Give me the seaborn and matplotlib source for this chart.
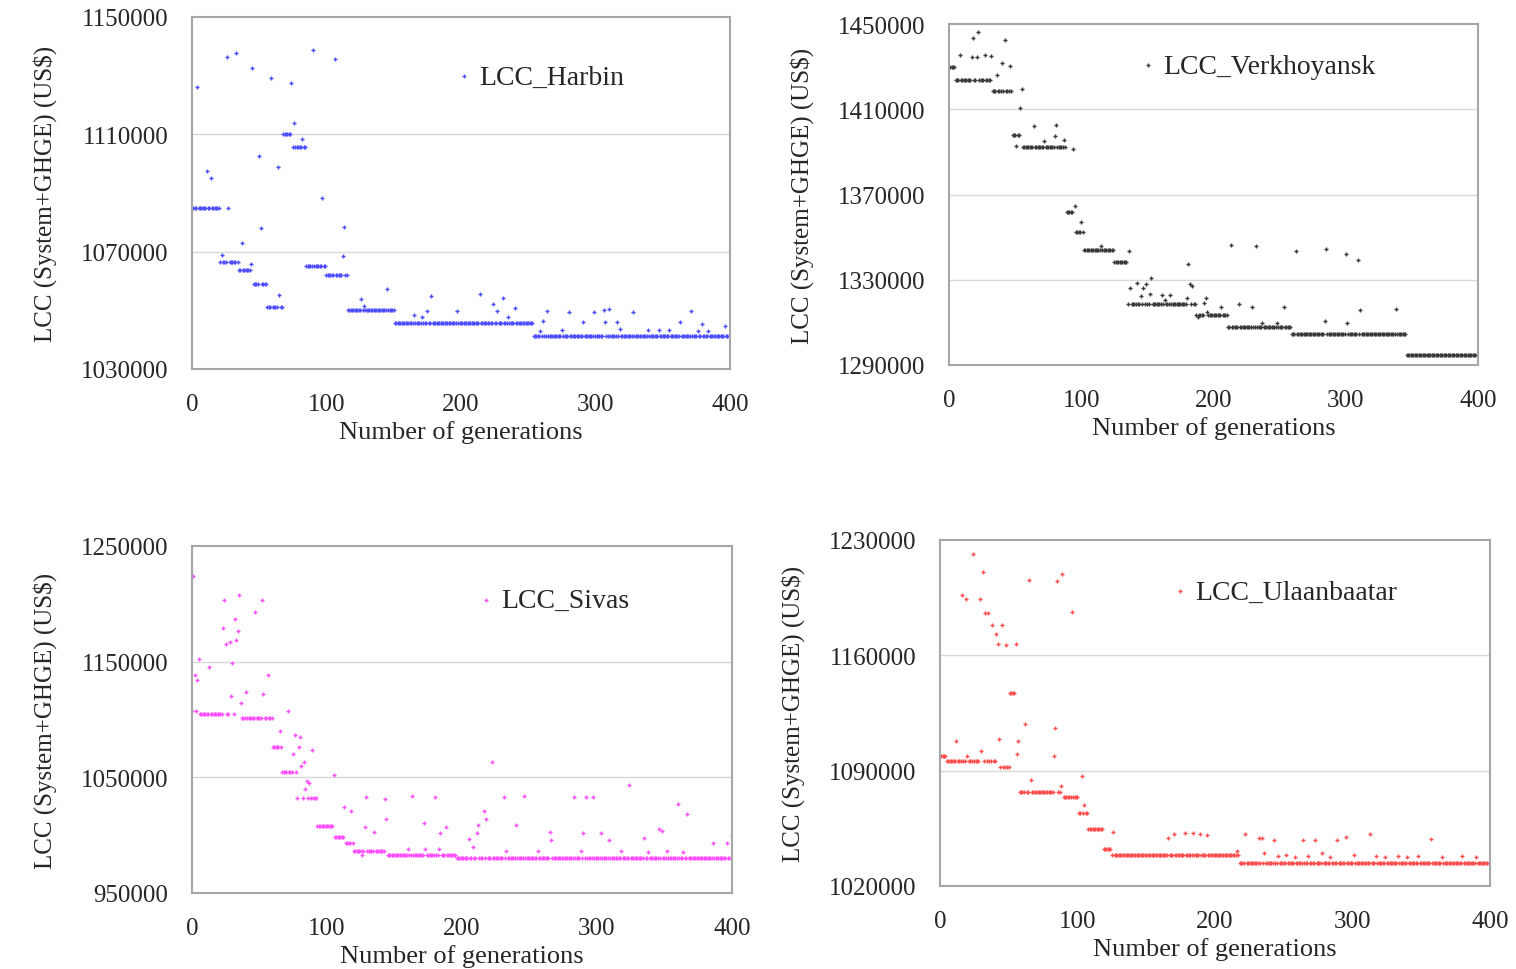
import matplotlib
matplotlib.use("Agg")
import matplotlib.pyplot as plt
import numpy as np
import pandas as pd
import seaborn as sns

# --- data (plateau runs + scattered points) ---
harbin_seg_start = [0, 21, 35, 45, 56, 68, 74, 85, 100, 116, 151, 254]
harbin_seg_end = [20, 34, 44, 55, 67, 73, 84, 99, 115, 150, 253, 400]
harbin_seg_value = [1085000, 1066500, 1063700, 1058800, 1051100, 1110200, 1105800,
                    1065000, 1062000, 1050100, 1045700, 1041100]
harbin_out_gen = [4, 11, 14, 22, 26, 27, 33, 37, 44, 45, 50, 51, 59, 64, 65, 74, 76, 82, 90,
                  97, 106, 112, 113, 115, 126, 128, 145, 165, 171, 175, 178, 197, 214, 224,
                  227, 231, 235, 240, 259, 261, 264, 275, 280, 291, 299, 306, 307, 310, 316,
                  318, 328, 339, 347, 355, 363, 371, 376, 379, 384, 396]
harbin_out_val = [1126200, 1097400, 1095200, 1068800, 1136350, 1084900, 1137600, 1072900,
                  1065900, 1132700, 1102450, 1078000, 1129200, 1098800, 1055350, 1127500,
                  1113700, 1108500, 1138850, 1088200, 1135800, 1068550, 1078300, 1061950,
                  1053900, 1051600, 1057400, 1048300, 1047700, 1049900, 1054800, 1049900,
                  1055600, 1052000, 1049900, 1054300, 1047700, 1050800, 1043000, 1046300,
                  1049900, 1043400, 1049300, 1046000, 1049550, 1050200, 1045900, 1050450,
                  1046000, 1043750, 1049450, 1043400, 1043400, 1043400, 1045900, 1049900,
                  1043000, 1045300, 1043000, 1044550]

verk_seg_start = [0, 5, 33, 48, 55, 89, 96, 102, 125, 135, 187, 211, 259, 346]
verk_seg_end = [4, 32, 47, 54, 88, 95, 101, 124, 134, 186, 210, 258, 345, 400]
verk_seg_value = [1429700, 1423500, 1418800, 1398000, 1392200, 1361800, 1352400, 1343900,
                  1338400, 1318600, 1313400, 1308000, 1304500, 1294700]
verk_out_gen = [8, 18, 22, 17, 21, 27, 32, 42, 40, 36, 46, 55, 54, 64, 51, 72, 81, 80, 87, 94,
                95, 100, 115, 136, 137, 142, 145, 147, 149, 153, 152, 161, 167, 163, 181, 182,
                184, 180, 194, 193, 188, 195, 206, 213, 219, 229, 232, 237, 248, 253, 262,
                285, 284, 300, 301, 309, 311, 338]
verk_out_val = [1435500, 1443300, 1446100, 1434700, 1434700, 1435600, 1435200, 1442500,
                1431700, 1426300, 1430200, 1419600, 1410500, 1402100, 1392700, 1394900,
                1402700, 1397400, 1395400, 1391450, 1364600, 1357100, 1345900, 1343400,
                1325900, 1328550, 1322300, 1325900, 1328200, 1330900, 1323100, 1322800,
                1322800, 1320400, 1337600, 1328200, 1327000, 1321200, 1321200, 1318900,
                1312600, 1315000, 1317300, 1346500, 1318600, 1317000, 1345900, 1309800,
                1309500, 1317000, 1343400, 1344200, 1310600, 1342300, 1309800, 1339200,
                1315750, 1316500]

sivas_seg_start = [0, 6, 37, 60, 67, 78, 93, 105, 114, 120, 143, 196]
sivas_seg_end = [5, 36, 59, 66, 77, 92, 104, 113, 119, 142, 195, 400]
sivas_seg_value = [1107000, 1104300, 1101500, 1076200, 1054700, 1032000, 1008200, 998800,
                   993000, 986200, 983000, 980400]
sivas_out_gen = [1, 2, 4, 5, 13, 24, 23, 25, 28, 30, 29, 32, 33, 34, 35, 36, 40, 47, 52, 53,
                 56, 71, 65, 76, 80, 79, 75, 83, 81, 85, 87, 84, 89, 105, 113, 118, 128, 129,
                 135, 143, 144, 126, 160, 163, 173, 172, 180, 183, 184, 188, 205, 208, 211,
                 212, 216, 218, 222, 231, 233, 240, 246, 256, 265, 266, 283, 288, 290, 292,
                 297, 303, 309, 318, 324, 335, 338, 346, 348, 352, 360, 364, 367, 386, 396, 400]
sivas_out_val = [1223900, 1138700, 1134400, 1152200, 1145300, 1203250, 1179450, 1165400,
                 1167400, 1148800, 1120100, 1186900, 1168800, 1176900, 1207550, 1114350,
                 1123800, 1192650, 1203250, 1122400, 1138450, 1107200, 1090000, 1086550,
                 1084800, 1076200, 1069900, 1063600, 1059900, 1046950, 1045500, 1039800,
                 1073650, 1052100, 1024600, 1020600, 1006800, 1033200, 1003100, 1031200,
                 1014000, 982400, 988200, 1033500, 988200, 1010600, 1033200, 988200,
                 1002200, 1007400, 996800, 989600, 1002200, 1009100, 1020600, 1014000,
                 1063600, 1033200, 986700, 1009100, 1034050, 986700, 1002500, 995900,
                 1033200, 986700, 1001950, 1033200, 1033200, 1001950, 995900, 986700,
                 1043500, 997350, 985300, 1005400, 1003950, 986700, 1026900, 985300,
                 1018300, 993050, 993050, 999050]

ulaan_seg_start = [0, 5, 42, 51, 57, 90, 101, 108, 119, 125, 218]
ulaan_seg_end = [4, 41, 50, 56, 89, 100, 107, 118, 124, 217, 400]
ulaan_seg_value = [1098600, 1095600, 1092500, 1137300, 1077200, 1074000, 1064300, 1054300,
                   1042200, 1038600, 1034100]
ulaan_out_gen = [12, 16, 19, 20, 24, 29, 30, 31, 33, 35, 38, 45, 41, 42, 48, 55, 43, 56, 57,
                 62, 65, 66, 83, 84, 85, 89, 88, 96, 103, 105, 126, 166, 170, 178, 184, 189,
                 194, 216, 222, 232, 234, 236, 243, 246, 252, 258, 264, 268, 273, 278, 284,
                 289, 295, 301, 313, 317, 324, 333, 340, 348, 357, 365, 380, 390]
ulaan_out_val = [1107700, 1196350, 1193900, 1099000, 1221550, 1193900, 1102200, 1210850,
                 1185900, 1185900, 1178200, 1178200, 1172750, 1167100, 1166100, 1166700,
                 1109100, 1100200, 1108100, 1118150, 1206000, 1084500, 1099000, 1115700,
                 1205000, 1209450, 1080900, 1186250, 1086900, 1069400, 1052650, 1048850,
                 1051250, 1052250, 1052250, 1051250, 1050850, 1041200, 1051250, 1048850,
                 1048850, 1040150, 1048200, 1038200, 1038600, 1037800, 1048200, 1038200,
                 1048200, 1040150, 1037800, 1048200, 1049800, 1038550, 1051250, 1038150,
                 1037600, 1038000, 1037800, 1038150, 1048600, 1037800, 1038150, 1037600]

panels = [
    ("LCC_Harbin", "#4d4dff", harbin_seg_start, harbin_seg_end, harbin_seg_value,
     harbin_out_gen, harbin_out_val, [1030000, 1070000, 1110000, 1150000]),
    ("LCC_Verkhoyansk", "#3a3a3a", verk_seg_start, verk_seg_end, verk_seg_value,
     verk_out_gen, verk_out_val, [1290000, 1330000, 1370000, 1410000, 1450000]),
    ("LCC_Sivas", "#ff4dff", sivas_seg_start, sivas_seg_end, sivas_seg_value,
     sivas_out_gen, sivas_out_val, [950000, 1050000, 1150000, 1250000]),
    ("LCC_Ulaanbaatar", "#ff4d4d", ulaan_seg_start, ulaan_seg_end, ulaan_seg_value,
     ulaan_out_gen, ulaan_out_val, [1020000, 1090000, 1160000, 1230000]),
]

# axes rectangles [left, bottom, width, height] in figure fraction
rects = [
    [0.1266, 0.6186, 0.3549, 0.3629],
    [0.626, 0.6227, 0.349, 0.3515],
    [0.1266, 0.0784, 0.3562, 0.3577],
    [0.620, 0.0856, 0.3628, 0.3567],
]
legend_pos = [(0.465, 0.83), (0.334, 0.877), (0.503, 0.844), (0.396, 0.85)]


def build_frame(seg_start, seg_end, seg_value, out_gen, out_val):
    outliers = set(out_gen)
    gens, vals = [], []
    for s, e, v in zip(seg_start, seg_end, seg_value):
        for g in range(s, e + 1):
            if g not in outliers:
                gens.append(g)
                vals.append(v)
    gens += list(out_gen)
    vals += list(out_val)
    return pd.DataFrame({"generation": gens, "lcc": vals}).sort_values("generation")


sns.set_style("white")
plt.rcParams["font.family"] = ["Liberation Serif", "DejaVu Serif"]

fig = plt.figure(figsize=(15.16, 9.70), dpi=100)

for (name, color, ss, se, sv, og, ov, yticks), rect, lpos in zip(panels, rects, legend_pos):
    ax = fig.add_axes(rect)
    df = build_frame(ss, se, sv, og, ov)
    sns.scatterplot(data=df, x="generation", y="lcc", ax=ax, color=color, edgecolor=color,
                    marker="+", s=10, linewidth=1.0, label=name, legend=False)
    ax.set_xlim(0, 400)
    ax.set_ylim(yticks[0], yticks[-1])
    ax.set_xticks([0, 100, 200, 300, 400])
    ax.set_yticks(yticks)
    ax.set_yticklabels([str(t) for t in yticks])
    for t in yticks[1:-1]:
        ax.axhline(t, color="#d9d9d9", linewidth=1.0, zorder=0)
    for sp in ax.spines.values():
        sp.set_color("#a6a6a6")
        sp.set_linewidth(1.5)
    ax.tick_params(axis="x", direction="in", length=5, color="#a6a6a6", labelsize=18, pad=17)
    ax.tick_params(axis="y", length=0, labelsize=18, pad=17)
    ax.set_xlabel("Number of generations", fontsize=19, labelpad=4)
    ax.set_ylabel("LCC (System+GHGE) (US$)", fontsize=18, labelpad=17)
    ax.legend(loc="center left", bbox_to_anchor=lpos, frameon=False, fontsize=20,
              handlelength=0.6, handletextpad=0.25, borderpad=0, markerscale=1.0)

fig.savefig("out.png", dpi=100)
